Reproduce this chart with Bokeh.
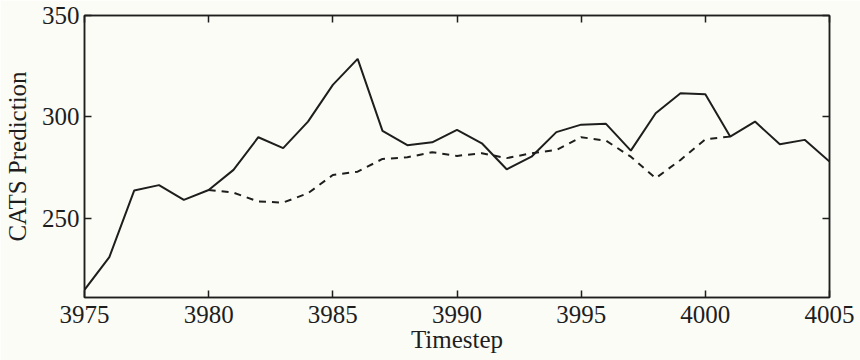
from bokeh.plotting import figure
from bokeh.models import Range1d, FixedTicker, LinearAxis
from bokeh.embed import file_html
from bokeh.resources import INLINE

timesteps = list(range(3975, 4006))
actual = [214.8, 230.9, 263.7, 266.4, 259.1, 264.0, 273.9, 290.0, 284.6, 297.7,
          315.8, 328.6, 293.1, 286.1, 287.5, 293.6, 287.0, 274.2, 280.4, 292.5,
          296.2, 296.6, 283.4, 301.8, 311.7, 311.2, 290.3, 297.7, 286.5, 288.7,
          278.0]
pred_steps = list(range(3980, 4002))
predicted = [264.0, 262.7, 258.3, 257.8, 262.4, 271.4, 273.0, 279.3, 280.1, 282.6,
             280.8, 282.1, 279.7, 282.1, 283.7, 290.0, 288.3, 280.4, 269.8, 278.8,
             289.0, 290.3]
x_ticks = [3975, 3980, 3985, 3990, 3995, 4000, 4005]
y_ticks = [250, 300, 350]

FONT = "Liberation Serif"
BG = "#fcfcf6"
INK = "#1e1e1e"

p = figure(width=860, height=360, output_backend="svg", toolbar_location=None,
           x_range=Range1d(3975, 4005), y_range=Range1d(211, 350),
           min_border_left=83, min_border_right=31, min_border_top=15,
           min_border_bottom=63)
p.background_fill_color = BG
p.border_fill_color = BG
p.grid.visible = False
p.outline_line_color = INK
p.outline_line_width = 1.5

p.line(timesteps, actual, line_color=INK, line_width=2)
p.line(pred_steps, predicted, line_color=INK, line_width=2, line_dash="7 6")

def style(ax, labels=True):
    ax.axis_line_color = INK
    ax.axis_line_width = 1.5
    ax.major_tick_in = 7
    ax.major_tick_out = 0
    ax.major_tick_line_color = INK
    ax.major_tick_line_width = 1.5
    ax.minor_tick_line_color = None
    if labels:
        ax.major_label_text_font = FONT
        ax.major_label_text_font_size = "25px"
        ax.major_label_text_color = INK
        ax.axis_label_text_font = FONT
        ax.axis_label_text_font_size = "25px"
        ax.axis_label_text_font_style = "normal"
        ax.axis_label_text_color = INK
    else:
        ax.major_label_text_font_size = "1px"
        ax.major_label_text_color = None
        ax.major_label_standoff = 0

xa = p.xaxis[0]
xa.ticker = FixedTicker(ticks=x_ticks)
xa.axis_label = "Timestep"
xa.major_label_standoff = 8
xa.axis_label_standoff = 0
style(xa)

ya = p.yaxis[0]
ya.ticker = FixedTicker(ticks=y_ticks)
ya.axis_label = "CATS Prediction"
ya.major_label_standoff = 5
ya.axis_label_standoff = 8
style(ya)

top = LinearAxis(ticker=FixedTicker(ticks=x_ticks))
style(top, labels=False)
p.add_layout(top, "above")
right = LinearAxis(ticker=FixedTicker(ticks=y_ticks))
style(right, labels=False)
p.add_layout(right, "right")

open("out.html", "w").write(file_html(p, INLINE))
